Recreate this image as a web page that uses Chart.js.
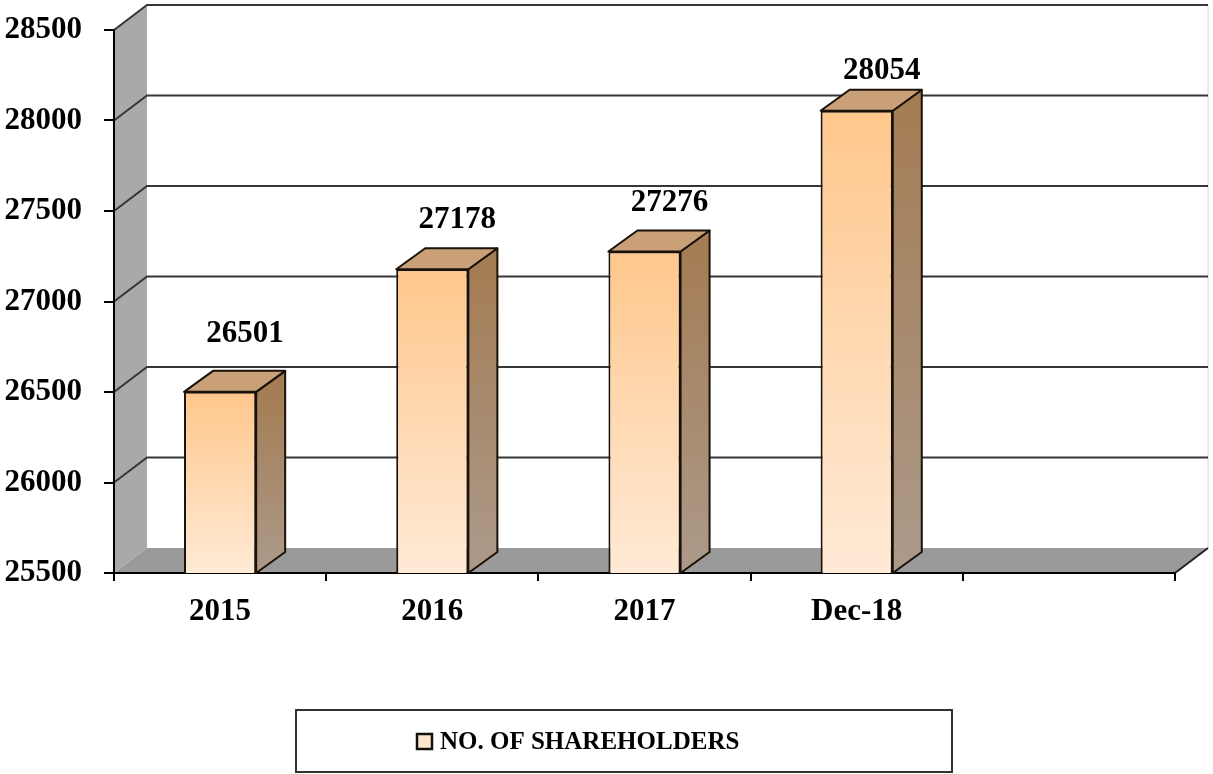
<!DOCTYPE html>
<html>
<head>
<meta charset="utf-8">
<script src="https://cdn.jsdelivr.net/npm/chart.js@4.4.1/dist/chart.umd.min.js"></script>
<style>
  html, body { margin: 0; padding: 0; background: #fff; }
  canvas { display: block; }
</style>
</head>
<body>
<canvas id="chart" width="1213" height="774"></canvas>
<script>
// data
const categories = ['2015', '2016', '2017', 'Dec-18', ''];
const shareholders = [26501, 27178, 27276, 28054, null];
const seriesLabel = 'NO. OF SHAREHOLDERS';
const yTicks = [25500, 26000, 26500, 27000, 27500, 28000, 28500];

const FONT = '"Liberation Serif", "Times New Roman", serif';
const WALL = { dx: 33, dy: -25 };   // depth of the walls
const BAR = { dx: 29, dy: -21 };    // depth of each bar

const frontTop = '#ffc78c';
const frontBottom = '#ffead6';

// walls, floor and gridlines behind everything
const wallsPlugin = {
    id: 'walls',
    beforeDraw(chart) {
        const { ctx, chartArea: a, scales } = chart;
        const L = a.left, R = a.right, T = a.top, B = a.bottom;
        ctx.save();

        // back wall
        ctx.fillStyle = '#ffffff';
        ctx.fillRect(L + WALL.dx, T + WALL.dy, R - L, B - T);
        ctx.strokeStyle = '#d8d8d8';
        ctx.lineWidth = 1;
        ctx.beginPath();
        ctx.moveTo(R + WALL.dx, T + WALL.dy);
        ctx.lineTo(R + WALL.dx, B + WALL.dy);
        ctx.stroke();

        // left side wall
        ctx.fillStyle = '#a9a9a9';
        ctx.beginPath();
        ctx.moveTo(L, T);
        ctx.lineTo(L + WALL.dx, T + WALL.dy);
        ctx.lineTo(L + WALL.dx, B + WALL.dy);
        ctx.lineTo(L, B);
        ctx.closePath();
        ctx.fill();

        // floor
        ctx.fillStyle = '#9a9a9a';
        ctx.beginPath();
        ctx.moveTo(L, B);
        ctx.lineTo(R, B);
        ctx.lineTo(R + WALL.dx, B + WALL.dy);
        ctx.lineTo(L + WALL.dx, B + WALL.dy);
        ctx.closePath();
        ctx.fill();

        // gridlines on the back wall + diagonals on the side wall
        ctx.strokeStyle = '#363636';
        ctx.lineWidth = 2;
        yTicks.forEach(v => {
            if (v === yTicks[0]) return;
            const y = scales.y.getPixelForValue(v);
            ctx.beginPath();
            ctx.moveTo(L, y);
            ctx.lineTo(L + WALL.dx, y + WALL.dy);
            ctx.lineTo(R + WALL.dx, y + WALL.dy);
            ctx.stroke();
        });

        // floor outer edge on the right
        ctx.strokeStyle = '#222';
        ctx.beginPath();
        ctx.moveTo(R, B);
        ctx.lineTo(R + WALL.dx, B + WALL.dy);
        ctx.stroke();
        ctx.restore();
    }
};

// top and side faces of the bars, value labels
const barsPlugin = {
    id: 'bars3d',
    afterDatasetsDraw(chart) {
        const { ctx, chartArea, scales } = chart;
        const meta = chart.getDatasetMeta(0);
        const base = scales.y.getPixelForValue(yTicks[0]);
        ctx.save();
        ctx.lineWidth = 2;
        ctx.strokeStyle = '#1a1108';
        ctx.lineJoin = 'round';
        meta.data.forEach((bar, i) => {
            if (shareholders[i] == null) return;
            const x = bar.x, y = bar.y, width = bar.width;
            const l = x - width / 2, r = x + width / 2;

            // side face
            const sg = ctx.createLinearGradient(0, y, 0, base);
            sg.addColorStop(0, '#a47d55');
            sg.addColorStop(1, '#ac9a8a');
            ctx.fillStyle = sg;
            ctx.beginPath();
            ctx.moveTo(r, y);
            ctx.lineTo(r + BAR.dx, y + BAR.dy);
            ctx.lineTo(r + BAR.dx, base + BAR.dy);
            ctx.lineTo(r, base);
            ctx.closePath();
            ctx.fill();
            ctx.stroke();

            // top face
            ctx.fillStyle = '#c9a077';
            ctx.beginPath();
            ctx.moveTo(l, y);
            ctx.lineTo(r, y);
            ctx.lineTo(r + BAR.dx, y + BAR.dy);
            ctx.lineTo(l + BAR.dx, y + BAR.dy);
            ctx.closePath();
            ctx.fill();
            ctx.stroke();

            // value label
            ctx.fillStyle = '#000';
            ctx.font = 'bold 31px ' + FONT;
            ctx.textAlign = 'center';
            ctx.textBaseline = 'alphabetic';
            const gap = 26 + 0.065 * (y - chartArea.top);
            ctx.fillText(String(shareholders[i]), x + 25, y - gap);
        });
        ctx.restore();
    }
};

// boxed legend under the chart
const legendPlugin = {
    id: 'boxLegend',
    afterDraw(chart) {
        const { ctx } = chart;
        ctx.save();
        ctx.strokeStyle = '#333';
        ctx.lineWidth = 2;
        ctx.strokeRect(296, 710, 656, 62);

        ctx.fillStyle = '#ffe6cf';
        ctx.fillRect(417, 734, 15, 15);
        ctx.strokeStyle = '#111';
        ctx.lineWidth = 2.5;
        ctx.strokeRect(417, 734, 15, 15);

        ctx.fillStyle = '#000';
        ctx.font = 'bold 25px ' + FONT;
        ctx.textAlign = 'left';
        ctx.textBaseline = 'middle';
        ctx.fillText(chart.data.datasets[0].label, 440, 743);
        ctx.restore();
    }
};

new Chart(document.getElementById('chart').getContext('2d'), {
    type: 'bar',
    data: {
        labels: categories,
        datasets: [{
            label: seriesLabel,
            data: shareholders,
            backgroundColor: (c) => {
                const chart = c.chart;
                if (!chart.chartArea || !c.parsed || c.parsed.y == null) return frontBottom;
                const top = chart.scales.y.getPixelForValue(c.parsed.y);
                const bottom = chart.scales.y.getPixelForValue(yTicks[0]);
                const g = chart.ctx.createLinearGradient(0, top, 0, bottom);
                g.addColorStop(0, frontTop);
                g.addColorStop(1, frontBottom);
                return g;
            },
            borderColor: '#1a1108',
            borderWidth: 2,
            borderSkipped: false,
            barPercentage: 0.34,
            categoryPercentage: 1
        }]
    },
    options: {
        responsive: false,
        animation: false,
        devicePixelRatio: 1,
        layout: { padding: { top: 30, right: 38, left: 0, bottom: 0 } },
        plugins: {
            legend: { display: false },
            tooltip: { enabled: false }
        },
        scales: {
            x: {
                afterFit: (s) => { s.height = 201; s.paddingLeft = 0; s.paddingRight = 0; },
                grid: { drawOnChartArea: false, drawTicks: true, tickLength: 8, color: '#000', lineWidth: 2 },
                border: { display: true, color: '#000', width: 2 },
                ticks: { color: '#000', padding: 12, font: { family: FONT, size: 31, weight: 'bold' } }
            },
            y: {
                min: yTicks[0],
                max: yTicks[yTicks.length - 1],
                afterFit: (s) => { s.width = 114; s.paddingTop = 0; s.paddingBottom = 0; },
                afterBuildTicks: (s) => { s.ticks = yTicks.map(v => ({ value: v })); },
                grid: { drawOnChartArea: false, drawTicks: true, tickLength: 10, color: '#000', lineWidth: 2 },
                border: { display: true, color: '#000', width: 2 },
                ticks: {
                    color: '#000',
                    padding: 22,
                    font: { family: FONT, size: 31, weight: 'bold' },
                    callback: (v) => String(v)
                }
            }
        }
    },
    plugins: [wallsPlugin, barsPlugin, legendPlugin]
});
</script>
</body>
</html>
